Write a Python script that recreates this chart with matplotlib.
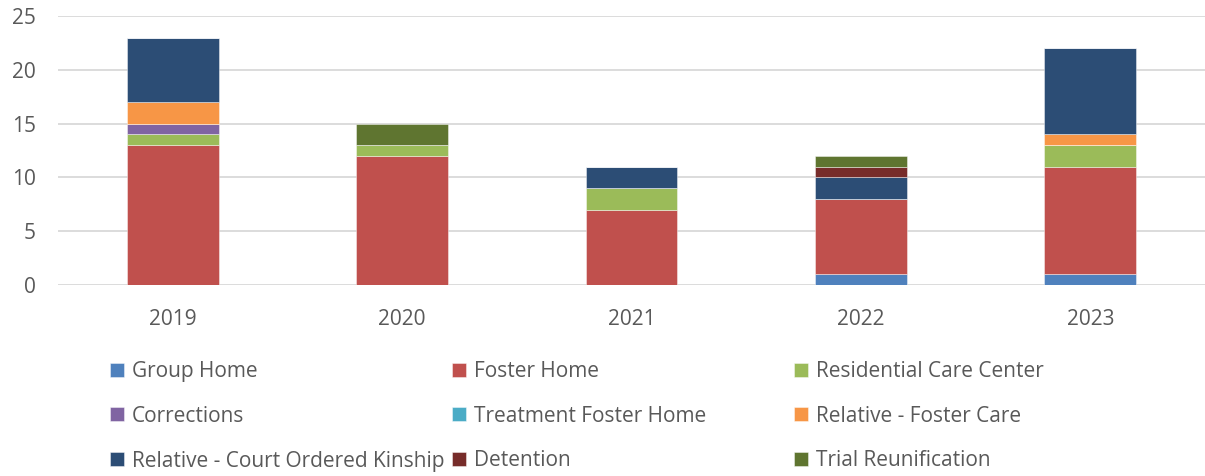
import matplotlib
matplotlib.use("Agg")
import matplotlib.pyplot as plt
import numpy as np

plt.rcParams['font.family'] = ['Open Sans', 'DejaVu Sans']

years = ["2019", "2020", "2021", "2022", "2023"]
group_home = [0, 0, 0, 1, 1]
foster_home = [13, 12, 7, 7, 10]
residential_care = [1, 1, 2, 0, 2]
corrections = [1, 0, 0, 0, 0]
treatment_foster = [0, 0, 0, 0, 0]
relative_foster = [2, 0, 0, 0, 1]
relative_kinship = [6, 0, 2, 2, 8]
detention = [0, 0, 0, 1, 0]
trial_reunification = [0, 2, 0, 1, 0]

series = [
    ("Group Home", group_home, "#4F81BD"),
    ("Foster Home", foster_home, "#C0504D"),
    ("Residential Care Center", residential_care, "#9BBB59"),
    ("Corrections", corrections, "#8064A2"),
    ("Treatment Foster Home", treatment_foster, "#4BACC6"),
    ("Relative - Foster Care", relative_foster, "#F79646"),
    ("Relative - Court Ordered Kinship", relative_kinship, "#2C4D75"),
    ("Detention", detention, "#772C2A"),
    ("Trial Reunification", trial_reunification, "#5F7530"),
]

fig = plt.figure(figsize=(12.05, 4.76), dpi=100)
W, H = 1205, 476
ax = fig.add_axes([58 / W, 1 - 285 / H, (1205 - 58) / W, (285 - 16) / H])

x = np.arange(len(years))
bottom = np.zeros(len(years))
handles = []
for name, vals, col in series:
    v = np.array(vals, dtype=float)
    b = ax.bar(x, v, 0.4, bottom=bottom, color=col, label=name,
               edgecolor=(1, 1, 1, 0.5), linewidth=0.6, zorder=3)
    handles.append(b)
    bottom += v

ax.set_xlim(-0.5, len(years) - 0.5)
ax.set_ylim(0, 25)
ax.set_yticks([0, 5, 10, 15, 20, 25])
ax.set_xticks(x)
ax.set_xticklabels(years)
ax.yaxis.grid(True, color="#D9D9D9", linewidth=1.3, zorder=0)
ax.set_axisbelow(True)
for s in ax.spines.values():
    s.set_visible(False)
ax.tick_params(axis='both', length=0, labelsize=15, colors="#595959")
ax.tick_params(axis='x', pad=17)
ax.tick_params(axis='y', pad=16)

cols = [[0, 3, 6], [1, 4, 7], [2, 5, 8]]
xs = [110, 452, 794]
for cx, idxs in zip(xs, cols):
    leg = fig.legend([handles[i] for i in idxs], [series[i][0] for i in idxs],
                     loc='upper left', bbox_to_anchor=(cx / W, 1 - 361 / H),
                     frameon=False, fontsize=15, handlelength=0.65, handleheight=0.65,
                     handletextpad=0.4, labelspacing=1.14, borderpad=0, borderaxespad=0)
    for t in leg.get_texts():
        t.set_color("#595959")

fig.savefig("out.png", dpi=100)
